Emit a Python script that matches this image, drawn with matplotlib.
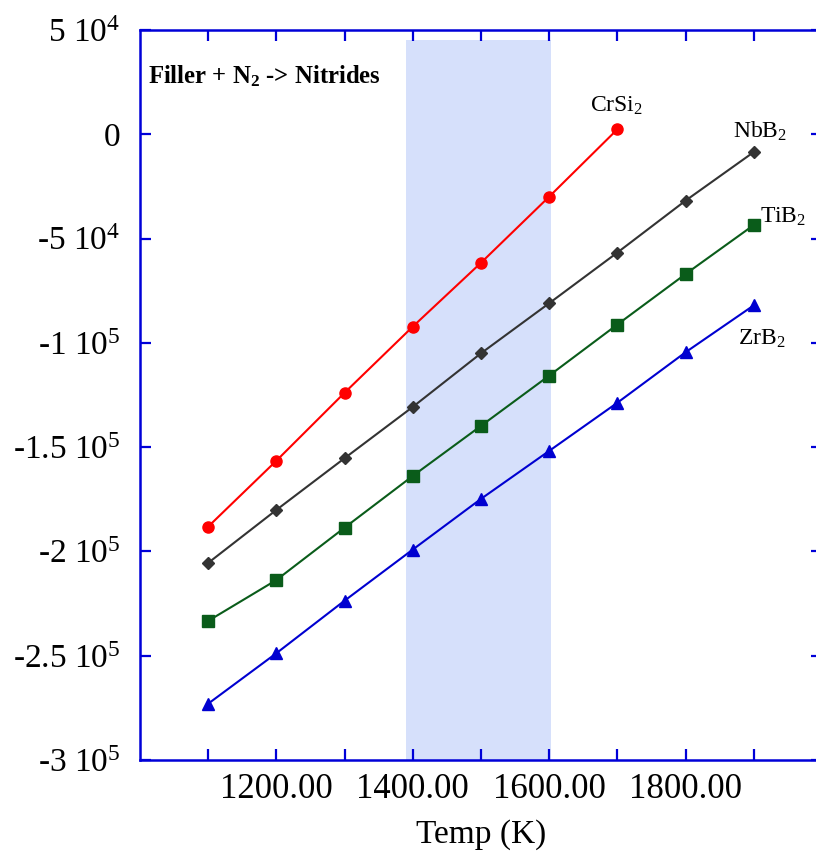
import numpy as np
import matplotlib
matplotlib.use("Agg")
import matplotlib.pyplot as plt
from matplotlib.ticker import MultipleLocator, FixedLocator, FuncFormatter

plt.rcParams['font.family'] = ['Liberation Serif', 'DejaVu Serif']
plt.rcParams['mathtext.fontset'] = 'custom'
plt.rcParams['mathtext.rm'] = 'Liberation Serif'
plt.rcParams['mathtext.it'] = 'Liberation Serif:italic'
plt.rcParams['mathtext.bf'] = 'Liberation Serif:bold'

# dati (energia vs temperatura)
temp = [1100, 1200, 1300, 1400, 1500, 1600, 1700, 1800, 1900]
crsi2 = [-188100, -156500, -123900, -92200, -61600, -29900, 2400]
nbb2 = [-205500, -180100, -155300, -130700, -105000, -81000, -56700, -31800, -8500]
tib2 = [-233300, -213700, -188600, -163800, -139800, -115700, -91200, -67000, -43500]
zrb2 = [-273000, -248800, -223600, -199100, -174800, -151800, -128700, -104500, -82000]

banda = [1390, 1602]   # zona evidenziata
y_ticks = [50000, 0, -50000, -100000, -150000, -200000, -250000, -300000]
y_lab = ["5 10$^4$", "0", "-5 10$^4$", "-1 10$^5$", "-1.5 10$^5$", "-2 10$^5$", "-2.5 10$^5$", "-3 10$^5$"]

blu = "#0000d8"

fig = plt.figure(figsize=(8.16, 8.55), dpi=100)
ax = fig.add_axes([140/816, 95/855, 682/816, 730/855])

ax.axvspan(banda[0], banda[1], ymin=0, ymax=(720/730), color="#d6e0fb", lw=0, zorder=0)

ax.plot(temp[:len(crsi2)], crsi2, "-o", color="#ff0000", ms=8, lw=1.5, zorder=3)
ax.plot(temp, nbb2, "-D", color="#333333", ms=6.5, lw=1.5, zorder=3)
ax.plot(temp, tib2, "-s", color="#0a5c1a", ms=8.5, lw=1.5, zorder=3)
ax.plot(temp, zrb2, "-^", color="#0000d0", ms=9, lw=1.5, zorder=3)

ax.set_xlim(1000, 2000)
ax.set_ylim(-300000, 50000)

ax.xaxis.set_major_locator(FixedLocator([1200, 1400, 1600, 1800]))
ax.xaxis.set_minor_locator(FixedLocator([1100, 1300, 1500, 1700, 1900]))
ax.xaxis.set_major_formatter(FuncFormatter(lambda v, p: "%.2f" % v))
ax.yaxis.set_major_locator(FixedLocator(y_ticks))
ax.set_yticklabels(y_lab)

for s in ax.spines.values():
    s.set_color(blu)
    s.set_linewidth(1.8)

ax.tick_params(axis="both", which="both", direction="in", length=8, width=1.6,
               color=blu, top=True, right=True)
ax.tick_params(axis="x", which="major", pad=9, labelsize=25)
ax.tick_params(axis="y", which="major", pad=14, labelsize=24)

ax.set_xlabel("Temp (K)", fontsize=24, labelpad=10)

fig.text(148/816, 1 - 83/855, "Filler + N$_\\mathbf{2}$ -> Nitrides", fontsize=17.8,
         fontweight="bold", va="baseline", ha="left")
fig.text(590/816, 1 - 112/855, "CrSi$_2$", fontsize=17, va="baseline", ha="left")
fig.text(733/816, 1 - 138/855, "NbB$_2$", fontsize=17, va="baseline", ha="left")
fig.text(760/816, 1 - 223/855, "TiB$_2$", fontsize=17, va="baseline", ha="left")
fig.text(738/816, 1 - 345/855, "ZrB$_2$", fontsize=17, va="baseline", ha="left")

fig.savefig("out.png", dpi=100)
